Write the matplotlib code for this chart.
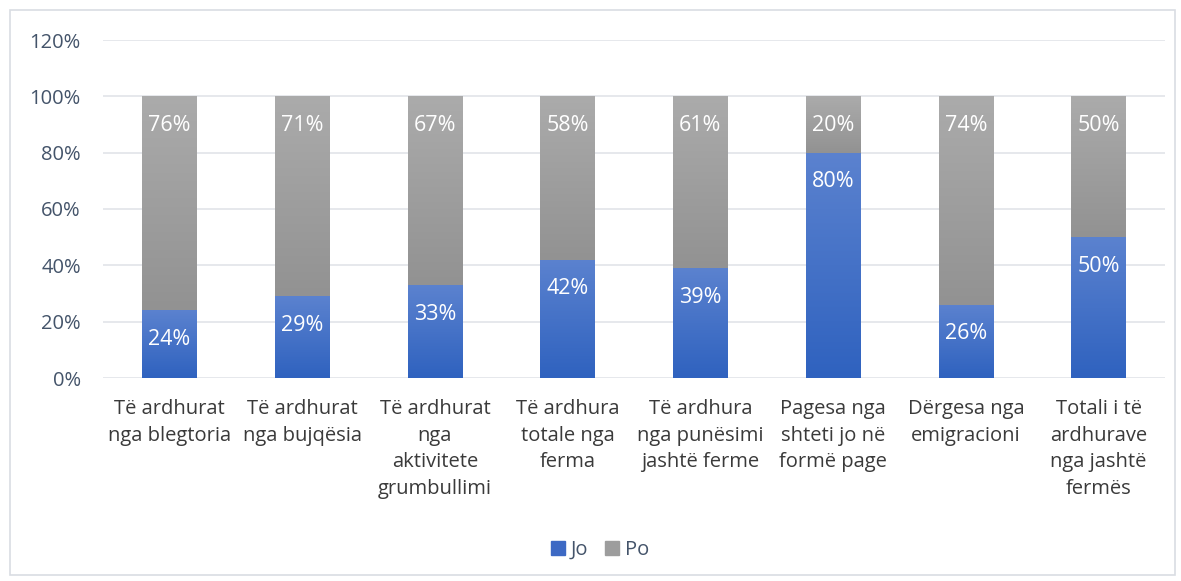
import numpy as np
import matplotlib; matplotlib.use('Agg')
from matplotlib import pyplot as plt
from matplotlib.colors import LinearSegmentedColormap
from matplotlib.patches import Rectangle

categories = ['Të ardhurat\nnga blegtoria', 'Të ardhurat\nnga bujqësia',
              'Të ardhurat\nnga\naktivitete\ngrumbullimi', 'Të ardhura\ntotale nga\nferma',
              'Të ardhura\nnga punësimi\njashtë ferme', 'Pagesa nga\nshteti jo në\nformë page',
              'Dërgesa nga\nemigracioni', 'Totali i të\nardhurave\nnga jashtë\nfermës']
jo = [24, 29, 33, 42, 39, 80, 26, 50]
po = [76, 71, 67, 58, 61, 20, 74, 50]
yticks = [0, 20, 40, 60, 80, 100, 120]

plt.rcParams['font.family'] = ['Open Sans', 'DejaVu Sans']
text_color = '#44546a'

fig = plt.figure(figsize=(11.81, 5.81), dpi=100)
ax = fig.add_axes([103 / 1181, 1 - 378 / 581, 1062 / 1181, 338 / 581])

# Chart border
fig.patches.append(Rectangle((10 / 1181, 6 / 581), 1165 / 1181, 565 / 581,
                             transform=fig.transFigure, fill=False,
                             edgecolor='#d9dde3', linewidth=1.2))

x = np.arange(len(categories))
width = 0.41
blue_cmap = LinearSegmentedColormap.from_list('b', ['#2f62bf', '#5b82cf'])
gray_cmap = LinearSegmentedColormap.from_list('g', ['#929292', '#ababab'])
grad = np.linspace(0, 1, 256).reshape(-1, 1)

bars_jo = ax.bar(x, jo, width, color='#4472c4', label='Jo', zorder=2)
bars_po = ax.bar(x, po, width, bottom=jo, color='#a5a5a5', label='Po', zorder=2)

# Gradient fill for each segment
for bars, cmap in [(bars_jo, blue_cmap), (bars_po, gray_cmap)]:
    for b in bars:
        x0, y0 = b.get_x(), b.get_y()
        w, h = b.get_width(), b.get_height()
        im = ax.imshow(grad, cmap=cmap, origin='lower', aspect='auto',
                       extent=[x0, x0 + w, y0, y0 + h], zorder=3)
        im.set_clip_path(b)

# Data labels, inside end
for bars, vals in [(bars_jo, jo), (bars_po, po)]:
    for b, v in zip(bars, vals):
        ax.annotate('{}%'.format(v), (b.get_x() + b.get_width() / 2, b.get_y() + b.get_height()),
                    xytext=(0, -29), textcoords='offset pixels', ha='center', va='center',
                    color='white', fontsize=15.5, zorder=4)

ax.set_xlim(-0.5, len(categories) - 0.5)
ax.set_ylim(0, 120)
ax.set_yticks(yticks)
ax.set_yticklabels(['{}%'.format(t) for t in yticks])
ax.set_xticks(x)
ax.set_xticklabels(categories, linespacing=1.45)
ax.tick_params(axis='y', length=0, pad=16, labelsize=14.5, labelcolor=text_color)
ax.tick_params(axis='x', length=0, pad=15, labelsize=14.5, labelcolor='#3a3a3a')
ax.yaxis.grid(True, color='#e1e4e9', linewidth=1.2, zorder=0)
ax.set_axisbelow(True)
for s in ax.spines.values():
    s.set_visible(False)

handles = [Rectangle((0, 0), 1, 1, color='#3d69c4'), Rectangle((0, 0), 1, 1, color='#9d9d9d')]
fig.legend(handles, ['Jo', 'Po'], loc='center', bbox_to_anchor=(600 / 1181, 1 - 550 / 581),
           ncol=2, frameon=False, fontsize=14.5, handlelength=0.7, handleheight=0.7,
           handletextpad=0.3, columnspacing=0.8, labelcolor=text_color)

plt.savefig('out.png', dpi=100)
